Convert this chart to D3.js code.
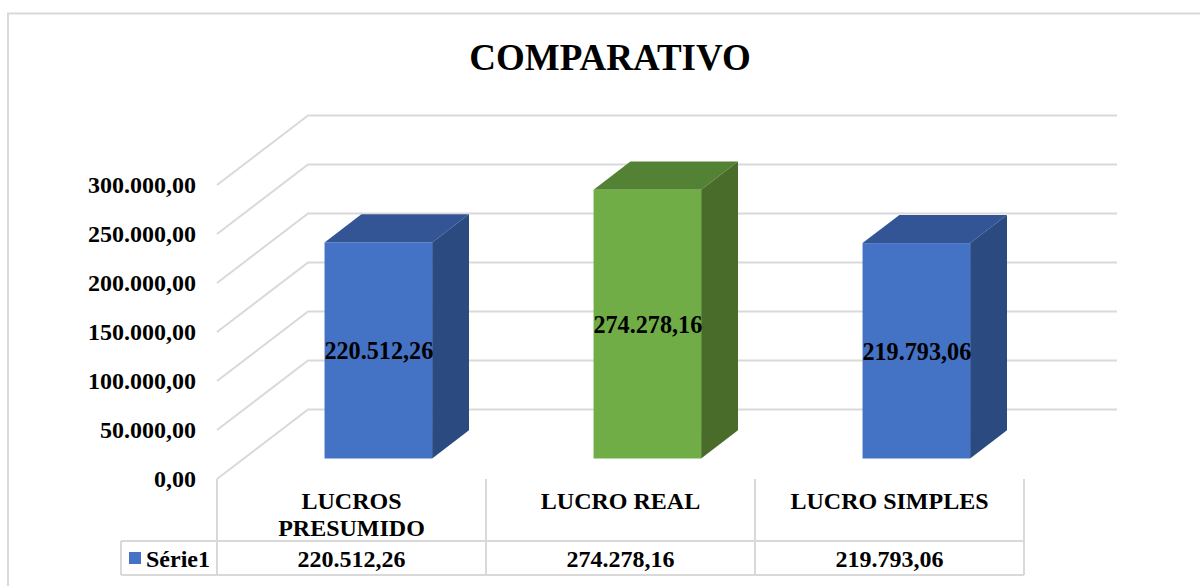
<!DOCTYPE html>
<html>
<head>
<meta charset="utf-8">
<script src="https://cdn.jsdelivr.net/npm/d3@7"></script>
<style>
    html, body { margin: 0; padding: 0; background: #fff; }
    text { font-family: "Liberation Serif", serif; font-weight: bold; fill: #000; }
</style>
</head>
<body>
<div id="chart"></div>
<script>
// Data
const categories = ["LUCROS PRESUMIDO", "LUCRO REAL", "LUCRO SIMPLES"];
const values = [220512.26, 274278.16, 219793.06];
const valueLabels = ["220.512,26", "274.278,16", "219.793,06"];
const tableLabels = ["220.512,26", "274.278,16", "219.793,06"];
const barColors = ["#4472c4", "#70ad47", "#4472c4"];
const topColors = ["#335595", "#548235", "#335595"];
const sideColors = ["#2a4a80", "#4a6c2b", "#2a4a80"];
const seriesName = "Série1";
const yTicks = [0, 50000, 100000, 150000, 200000, 250000, 300000];
const yTickLabels = ["0,00", "50.000,00", "100.000,00", "150.000,00", "200.000,00", "250.000,00", "300.000,00"];

const width = 1200, height = 586;
const gridColor = "#d9d9d9";

const svg = d3.select("#chart").append("svg")
    .attr("width", width)
    .attr("height", height)
    .style("display", "block");

// Plot floor in the front plane
const plotLeft = 217, plotRight = 1024, floorY = 479;
const depthX = 91, depthY = -69.5;   // shift from front to back wall
const backRight = 1117;              // back wall runs a bit past the table
const barDepthStart = 0.295, barDepthEnd = 0.70;

const x = d3.scaleBand()
    .domain(categories)
    .range([plotLeft, plotRight])
    .paddingInner(0.6)
    .paddingOuter(0.3);

const y = d3.scaleLinear()
    .domain([0, 300000])
    .range([floorY, 185]);

// Oblique projection, depth 0 = front, 1 = back wall
const px = (xv, depth) => xv + depth * depthX;
const py = (v, depth) => y(v) + depth * depthY;

// Outer frame of the chart
svg.append("path")
    .attr("d", `M8,${height}V13.5H${width}`)
    .attr("fill", "none")
    .attr("stroke", gridColor)
    .attr("stroke-width", 2);

// Title
svg.append("text")
    .attr("x", 610)
    .attr("y", 70)
    .attr("text-anchor", "middle")
    .style("font-size", "37px")
    .text("COMPARATIVO");

// Gridlines on side and back wall
const grid = svg.append("g");
grid.selectAll("path")
    .data(yTicks)
    .join("path")
    .attr("d", d => `M${px(plotLeft, 0)},${py(d, 0)}L${px(plotLeft, 1)},${py(d, 1)}H${backRight}`)
    .attr("fill", "none")
    .attr("stroke", gridColor)
    .attr("stroke-width", 2);

// Y axis, labels only
const yAxis = d3.axisLeft(y)
    .tickValues(yTicks)
    .tickFormat((d, i) => yTickLabels[i])
    .tickSize(0)
    .tickPadding(21);

svg.append("g")
    .attr("transform", `translate(${plotLeft},0)`)
    .call(yAxis)
    .call(g => g.select(".domain").remove())
    .selectAll("text")
    .style("font-size", "24px");

// 3D bars
const bars = svg.append("g").selectAll("g")
    .data(categories)
    .join("g");

// top face
bars.append("path")
    .attr("fill", (d, i) => topColors[i])
    .attr("d", (d, i) => {
        const x0 = x(d), x1 = x(d) + x.bandwidth();
        return `M${px(x0, barDepthStart)},${py(values[i], barDepthStart)}`
            + `L${px(x1, barDepthStart)},${py(values[i], barDepthStart)}`
            + `L${px(x1, barDepthEnd)},${py(values[i], barDepthEnd)}`
            + `L${px(x0, barDepthEnd)},${py(values[i], barDepthEnd)}Z`;
    });

// side face
bars.append("path")
    .attr("fill", (d, i) => sideColors[i])
    .attr("d", (d, i) => {
        const x1 = x(d) + x.bandwidth();
        return `M${px(x1, barDepthStart)},${py(0, barDepthStart)}`
            + `L${px(x1, barDepthEnd)},${py(0, barDepthEnd)}`
            + `L${px(x1, barDepthEnd)},${py(values[i], barDepthEnd)}`
            + `L${px(x1, barDepthStart)},${py(values[i], barDepthStart)}Z`;
    });

// front face
bars.append("rect")
    .attr("fill", (d, i) => barColors[i])
    .attr("x", d => px(x(d), barDepthStart))
    .attr("width", x.bandwidth())
    .attr("y", (d, i) => py(values[i], barDepthStart))
    .attr("height", (d, i) => py(0, barDepthStart) - py(values[i], barDepthStart));

// data labels
bars.append("text")
    .attr("text-anchor", "middle")
    .attr("x", d => px(x(d), barDepthStart) + x.bandwidth() / 2 + 0.5)
    .attr("y", (d, i) => (py(0, barDepthStart) + py(values[i], barDepthStart)) / 2 + 9)
    .style("font-size", "24.2px")
    .text((d, i) => valueLabels[i]);

// Data table below the plot
const rowTop = 541, rowBottom = 575, tableLeft = 121;
const step = x.step();
const table = svg.append("g")
    .attr("fill", "none")
    .attr("stroke", gridColor)
    .attr("stroke-width", 2);

table.selectAll("line.h")
    .data([rowTop, rowBottom])
    .join("line")
    .attr("class", "h")
    .attr("x1", tableLeft)
    .attr("x2", plotRight)
    .attr("y1", d => d)
    .attr("y2", d => d);

table.selectAll("line.v")
    .data(d3.range(categories.length + 1))
    .join("line")
    .attr("class", "v")
    .attr("x1", d => plotLeft + d * step)
    .attr("x2", d => plotLeft + d * step)
    .attr("y1", floorY)
    .attr("y2", rowBottom);

table.append("line")
    .attr("x1", tableLeft)
    .attr("x2", tableLeft)
    .attr("y1", rowTop)
    .attr("y2", rowBottom);

// Category labels (wrapped on two lines when they do not fit)
const catLabels = svg.append("g").selectAll("text")
    .data(categories)
    .join("text")
    .attr("text-anchor", "middle")
    .attr("y", 509)
    .style("font-size", "24px");

catLabels.each(function (d) {
    const lines = d.length > 14 ? d.split(" ") : [d];
    const cx = x(d) + x.bandwidth() / 2;
    d3.select(this).selectAll("tspan")
        .data(lines)
        .join("tspan")
        .attr("x", cx)
        .attr("dy", (l, i) => i ? 27 : 0)
        .text(l => l);
});

// Table values
svg.append("g").selectAll("text")
    .data(categories)
    .join("text")
    .attr("text-anchor", "middle")
    .attr("x", d => x(d) + x.bandwidth() / 2)
    .attr("y", 567)
    .style("font-size", "24px")
    .text((d, i) => tableLabels[i]);

// Legend key in the table
svg.append("rect")
    .attr("x", 129)
    .attr("y", 552)
    .attr("width", 12)
    .attr("height", 12)
    .attr("fill", barColors[0]);

svg.append("text")
    .attr("x", 146)
    .attr("y", 567)
    .style("font-size", "24px")
    .text(seriesName);
</script>
</body>
</html>
